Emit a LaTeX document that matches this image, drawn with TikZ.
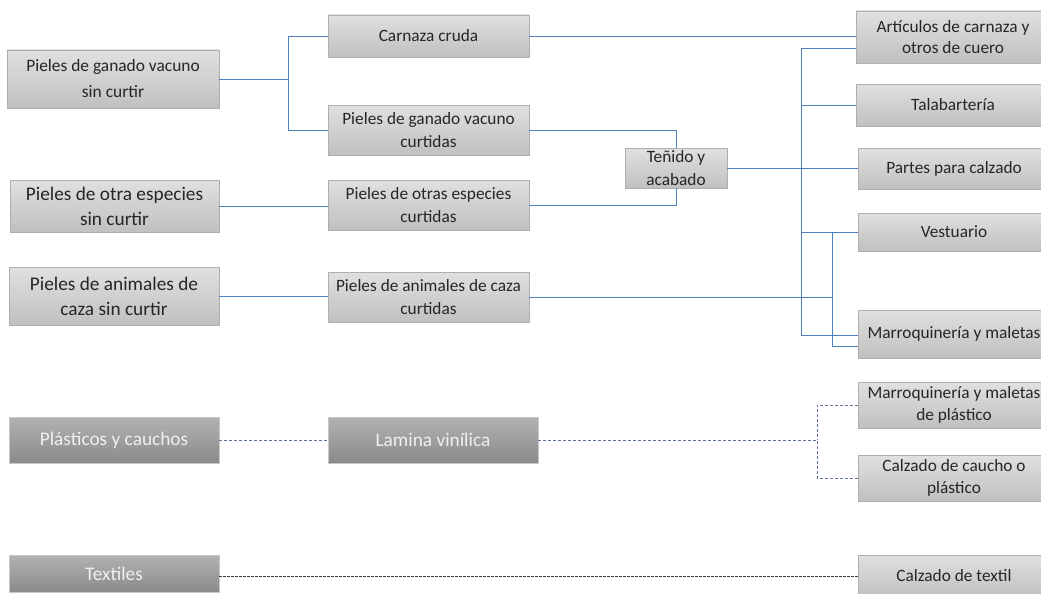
\documentclass[tikz,border=0pt]{standalone}
\usepackage{fontspec}
\setmainfont{Carlito}
\definecolor{conn}{RGB}{79,129,189}
\definecolor{dconn}{RGB}{95,115,150}
\definecolor{tconn}{RGB}{60,60,60}
\definecolor{txt}{RGB}{38,38,38}
\tikzset{
  box/.style={draw={rgb,255:red,175;green,175;blue,175}, line width=0.6pt,
    top color={rgb,255:red,224;green,224;blue,224},
    bottom color={rgb,255:red,192;green,192;blue,192},
    align=center, inner sep=0pt, text=txt},
  dbox/.style={draw={rgb,255:red,200;green,200;blue,200}, line width=0.6pt,
    top color={rgb,255:red,178;green,178;blue,178},
    bottom color={rgb,255:red,138;green,138;blue,138},
    align=center, inner sep=0pt, text={rgb,255:red,240;green,240;blue,240}},
  afont/.style={font=\fontsize{17.4}{26}\selectfont},
  lfont/.style={font=\fontsize{19.3}{25}\selectfont},
  mfont/.style={font=\fontsize{17.3}{23}\selectfont},
  rfont/.style={font=\fontsize{17.3}{21.5}\selectfont},
  conn/.style={draw=conn, line width=0.9pt},
  dconn/.style={draw=dconn, line width=0.9pt, dash pattern=on 3pt off 2pt},
  tconn/.style={draw=tconn, line width=0.9pt, dash pattern=on 2.5pt off 1.5pt},
  wh/.style 2 args={minimum width=#1pt, minimum height=#2pt}
}
\begin{document}
\begin{tikzpicture}[x=1pt,y=-1pt]
\fill[white] (0,0) rectangle (1041,594);
\clip (0,0) rectangle (1041,594);
% left column
\node[box,afont,wh={212}{58}] (A) at (113,79) {Pieles de ganado vacuno\\sin curtir};
\node[box,lfont,wh={209}{52}] (F) at (114.5,206) {Pieles de otra especies\\sin curtir};
\node[box,lfont,wh={210}{58}] (G) at (114,296) {Pieles de animales de\\caza sin curtir};
\node[dbox,lfont,wh={210}{46}] (N) at (114,440) {Plásticos y cauchos};
\node[dbox,lfont,wh={210}{37}] (R) at (114,573.5) {Textiles};
% middle column
\node[box,mfont,wh={201}{42}] (B) at (428.5,36) {Carnaza cruda};
\node[box,mfont,wh={201}{50}] (C) at (428.5,130) {Pieles de ganado vacuno\\curtidas};
\node[box,mfont,wh={201}{50}] (E) at (428.5,205) {Pieles de otras especies\\curtidas};
\node[box,mfont,wh={201}{50}] (H) at (428.5,297) {Pieles de animales de caza\\curtidas};
\node[dbox,lfont,wh={210}{46}] (O) at (433,440) {Lamina vinílica};
\node[box,mfont,wh={102}{40}] (D) at (676,168) {Teñido y\\acabado};
% right column
\node[box,rfont,wh={194}{52}] (I) at (953,37) {Artículos de carnaza y\\otros de cuero};
\node[box,rfont,wh={194}{42}] (J) at (953,105) {Talabartería};
\node[box,rfont,wh={192}{41}] (K) at (954,168.5) {Partes para calzado};
\node[box,rfont,wh={192}{38}] (L) at (954,232) {Vestuario};
\node[box,rfont,wh={192}{48}] (M) at (954,334) {Marroquinería y maletas};
\node[box,rfont,wh={192}{46}] (P) at (954,405) {Marroquinería y maletas\\de plástico};
\node[box,rfont,wh={192}{46}] (Q) at (954,478) {Calzado de caucho o\\plástico};
\node[box,rfont,wh={192}{42}] (S) at (954,576) {Calzado de textil};
% junction coordinates
\coordinate (j1) at (288,79);
\coordinate (bt) at (801,48);
\coordinate (bb) at (801,335);
\coordinate (b2t) at (832,232);
\coordinate (b2b) at (832,346);
\coordinate (pj) at (817,440);
% connectors
\draw[conn] (A.east) -- (j1);
\draw[conn] (B.west) -| (j1);
\draw[conn] (C.west) -| (j1);
\draw[conn] (B.east) -- (B.east -| I.west);
\draw[conn] (C.east) -| (D.north);
\draw[conn] (E.east) -| (D.south);
\draw[conn] (F.east) -- (F.east -| E.west);
\draw[conn] (G.east) -- (G.east -| H.west);
\draw[conn] (D.east) -- (D.east -| K.west);
\draw[conn] (bt) -- (bb);
\draw[conn] (bt) -- (bt -| I.west);
\draw[conn] (J.west) -- (J.west -| bt);
\draw[conn] (L.west) -- (L.west -| bt);
\draw[conn] (bb) -- (bb -| M.west);
\draw[conn] (H.east) -- (H.east -| b2t);
\draw[conn] (b2t) -- (b2b);
\draw[conn] (b2b) -- (b2b -| M.west);
\draw[dconn] (N.east) -- (O.west);
\draw[dconn] (O.east) -- (pj);
\draw[dconn] (P.west) -| (pj);
\draw[dconn] (Q.west) -| (pj);
\draw[tconn] (R.east |- S.west) -- (S.west);
\end{tikzpicture}
\end{document}
